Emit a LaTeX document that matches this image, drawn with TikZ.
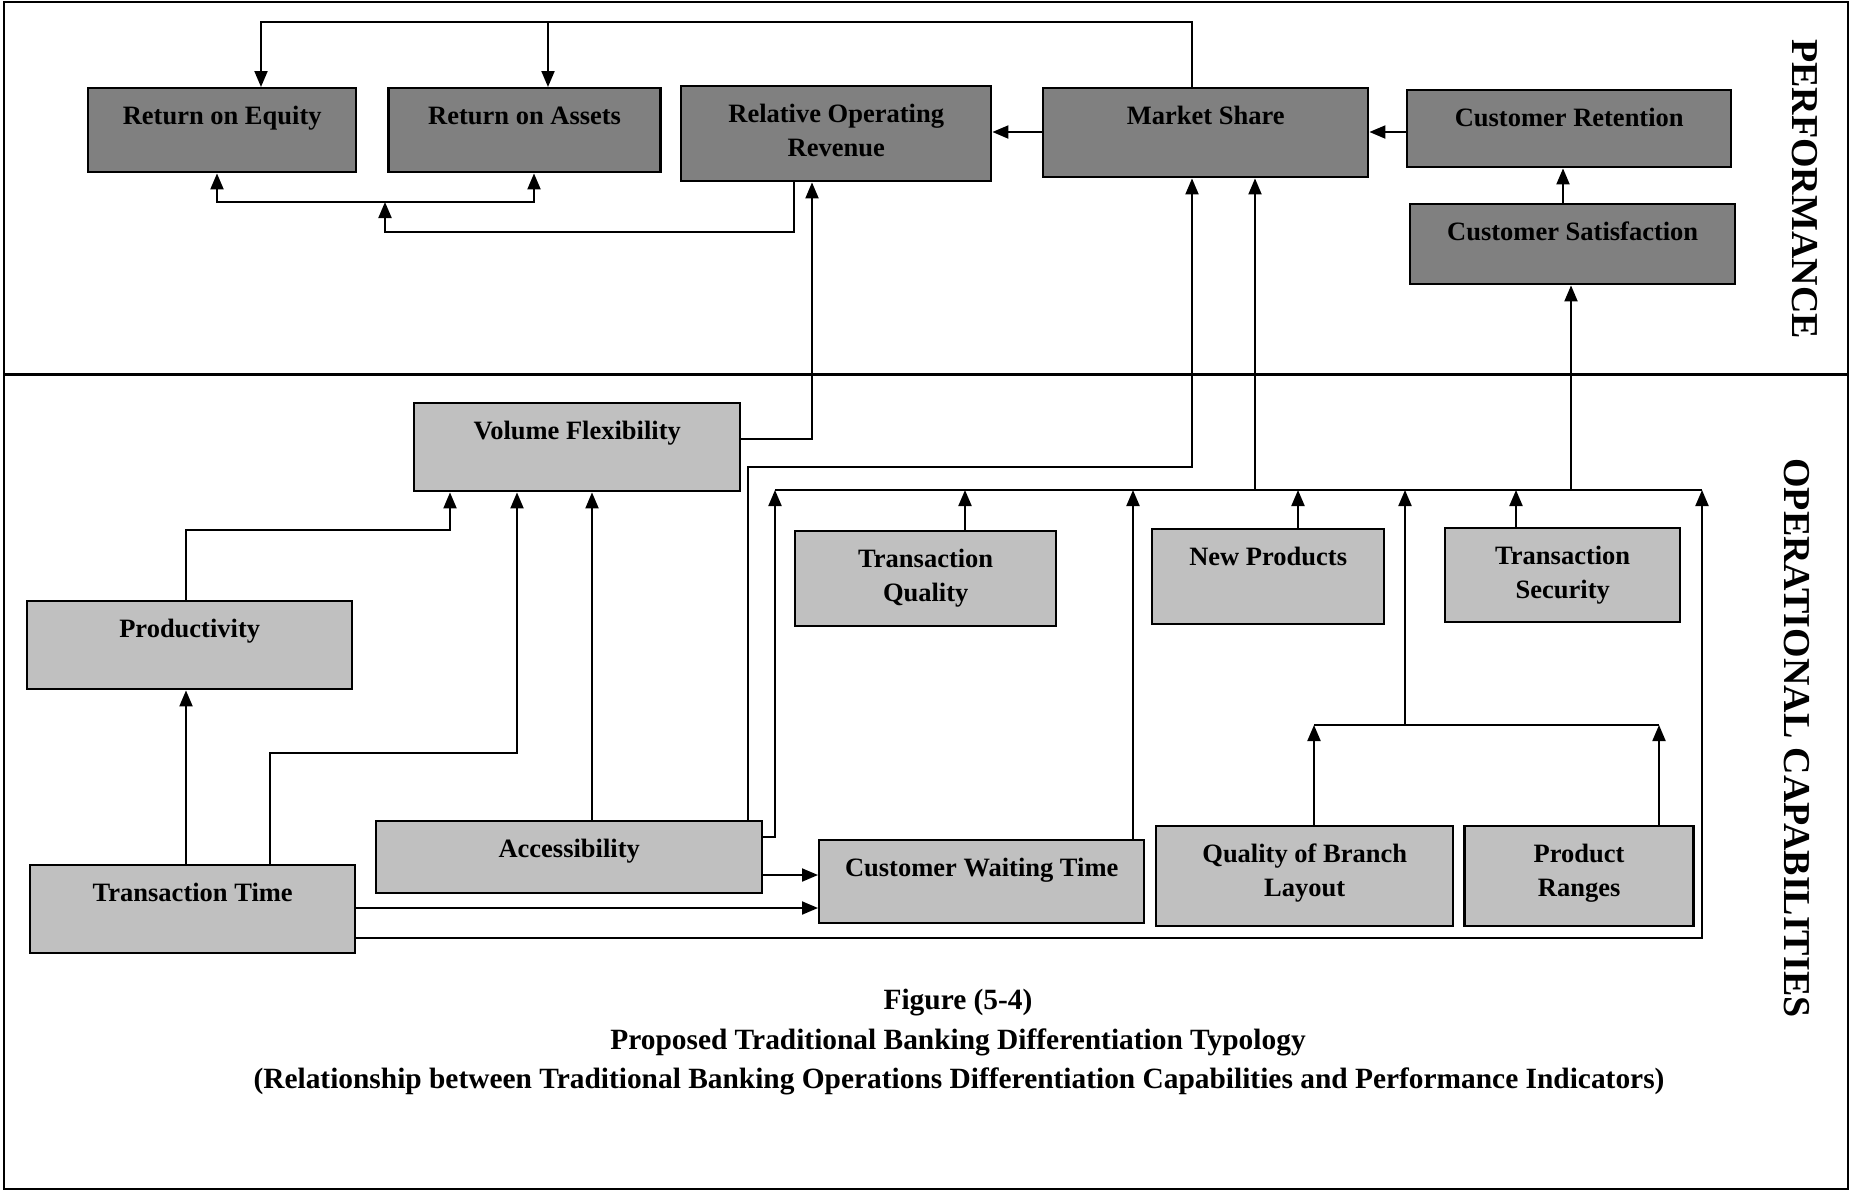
\documentclass[tikz,border=0pt]{standalone}
\usepackage{fontspec}
\setmainfont{Liberation Serif}
\usepackage{tikz}
\usetikzlibrary{arrows.meta,positioning}
\definecolor{perfgray}{HTML}{808080}
\definecolor{capgray}{HTML}{C0C0C0}
\newcommand{\boxfont}{\fontsize{26.5}{34.5}\selectfont\bfseries}
\newcommand{\capfont}{\fontsize{29.4}{34}\selectfont\bfseries}
\newcommand{\sidefont}{\fontsize{38}{40}\selectfont\bfseries}

\begin{document}
\begin{tikzpicture}[
  x=1pt, y=-1pt,
  node distance=30pt,
  box/.style={draw, line width=2.4pt, anchor=north west, align=center, inner xsep=0pt, inner ysep=0pt, text height=36pt, font=\boxfont},
  perfbox/.style={box, fill=perfgray},
  opbox/.style={box, fill=capgray},
  twoline/.style={text height=70.5pt},
  sz/.style n args={2}{minimum width=#1, text depth=#2},
  link/.style={line width=2pt},
  arr/.style={link, -{Triangle[length=16pt,width=13pt]}},
  side/.style={font=\sidefont, rotate=-90},
  caption/.style={font=\capfont},
]
\useasboundingbox (0,0) rectangle (1851,1192);

% frame and split between the two layers
\draw[line width=2pt] (4,2) rectangle (1848,1189);
\draw[line width=3pt] (4,374) -- (1848,374);

% Performance layer
\node[perfbox, sz={268pt}{48pt}] (roe) at (87,87) {Return on Equity};
\node[perfbox, sz={272pt}{48pt}, right=30pt of roe] (roa) {Return on Assets};
\node[perfbox, twoline, sz={310pt}{24.5pt}] (ror) at (680,85) {Relative Operating\\Revenue};
\node[perfbox, sz={325pt}{53pt}] (ms) at (1042,87) {Market Share};
\node[perfbox, sz={324pt}{41pt}] (cr) at (1406,89) {Customer Retention};
\node[perfbox, sz={325pt}{44pt}] (cs) at (1409,203) {Customer Satisfaction};

% Operational capabilities layer
\node[opbox, sz={326pt}{52pt}] (vf) at (413,402) {Volume Flexibility};
\node[opbox, sz={325pt}{52pt}] (prod) at (26,600) {Productivity};
\node[opbox, sz={325pt}{52pt}] (tt) at (29,864) {Transaction Time};
\node[opbox, sz={386pt}{36pt}] (acc) at (375,820) {Accessibility};
\node[opbox, twoline, sz={261pt}{24.5pt}] (tq) at (794,530) {Transaction\\Quality};
\node[opbox, sz={232pt}{59pt}] (np) at (1151,528) {New Products};
\node[opbox, twoline, sz={235pt}{23.5pt}] (ts) at (1444,527) {Transaction\\Security};
\node[opbox, sz={325pt}{47pt}] (cwt) at (818,839) {Customer Waiting Time};
\node[opbox, twoline, sz={297pt}{29.5pt}] (qbl) at (1155,825) {Quality of Branch\\Layout};
\node[opbox, twoline, sz={229pt}{29.5pt}, right=9pt of qbl] (pr) {Product\\Ranges};

% side titles
\node[side] (perflbl) at (1805,189) {PERFORMANCE};
\node[side] (opslbl) at (1797,738) {OPERATIONAL CAPABILITIES};

% caption
\node[caption] (fig) at (958,1003) {Figure (5-4)};
\node[caption] (title) at (958,1042) {Proposed Traditional Banking Differentiation Typology};
\node[caption] (subtitle) at (959,1081) {(Relationship between Traditional Banking Operations Differentiation Capabilities and Performance Indicators)};

% junction points
\coordinate (jroa) at (548,22);
\coordinate (rrmid) at (385,202);
\coordinate (busl) at (775,490);
\coordinate (busr) at (1702,490);
\coordinate (mrg) at (1405,725);

% links inside performance
\draw[arr] (ms.north -| 1192,0) -- (1192,22) -| (roe.north -| 261,0);
\draw[arr] (jroa) -- (roa.north -| jroa);
\draw[arr] (ms.west |- 0,132) -- (ror.east |- 0,132);
\draw[arr] (cr.west |- 0,132) -- (ms.east |- 0,132);
\draw[arr] (cs.north -| 1563,0) -- (cr.south -| 1563,0);
\draw[arr] (ror.south -| 794,0) |- (385,232) -- (rrmid);
\draw[arr] (rrmid) -| (roe.south -| 217,0);
\draw[arr] (rrmid) -| (roa.south -| 534,0);

% capabilities up to performance
\draw[arr] (vf.east |- 0,439) -| (ror.south -| 812,0);
\draw[arr] (acc.north -| 748,0) |- (1192,467) -- (ms.south -| 1192,0);
\draw[link] (busl) -- (busr);
\draw[arr] (busl -| 1255,0) -- (ms.south -| 1255,0);
\draw[arr] (busl -| 1571,0) -- (cs.south -| 1571,0);

% into the bus
\draw[arr] (acc.east |- 0,837) -| (busl);
\draw[arr] (tq.north -| 965,0) -- (busl -| 965,0);
\draw[arr] (cwt.north -| 1133,0) -- (busl -| 1133,0);
\draw[arr] (np.north -| 1298,0) -- (busl -| 1298,0);
\draw[arr] (ts.north -| 1516,0) -- (busl -| 1516,0);
\draw[arr] (mrg) -- (busl -| mrg);
\draw[link] (mrg -| 1314,0) -- (mrg -| 1659,0);
\draw[arr] (qbl.north -| 1314,0) -- (mrg -| 1314,0);
\draw[arr] (pr.north -| 1659,0) -- (mrg -| 1659,0);
\draw[arr] (tt.east |- 0,938) -| (busr);

% lower links
\draw[arr] (acc.east |- 0,875) -- (cwt.west |- 0,875);
\draw[arr] (tt.east |- 0,908) -- (cwt.west |- 0,908);
\draw[arr] (prod.north -| 186,0) |- (450,530) -- (vf.south -| 450,0);
\draw[arr] (tt.north -| 270,0) |- (517,753) -- (vf.south -| 517,0);
\draw[arr] (acc.north -| 592,0) -- (vf.south -| 592,0);
\draw[arr] (tt.north -| 186,0) -- (prod.south -| 186,0);
\end{tikzpicture}
\end{document}
